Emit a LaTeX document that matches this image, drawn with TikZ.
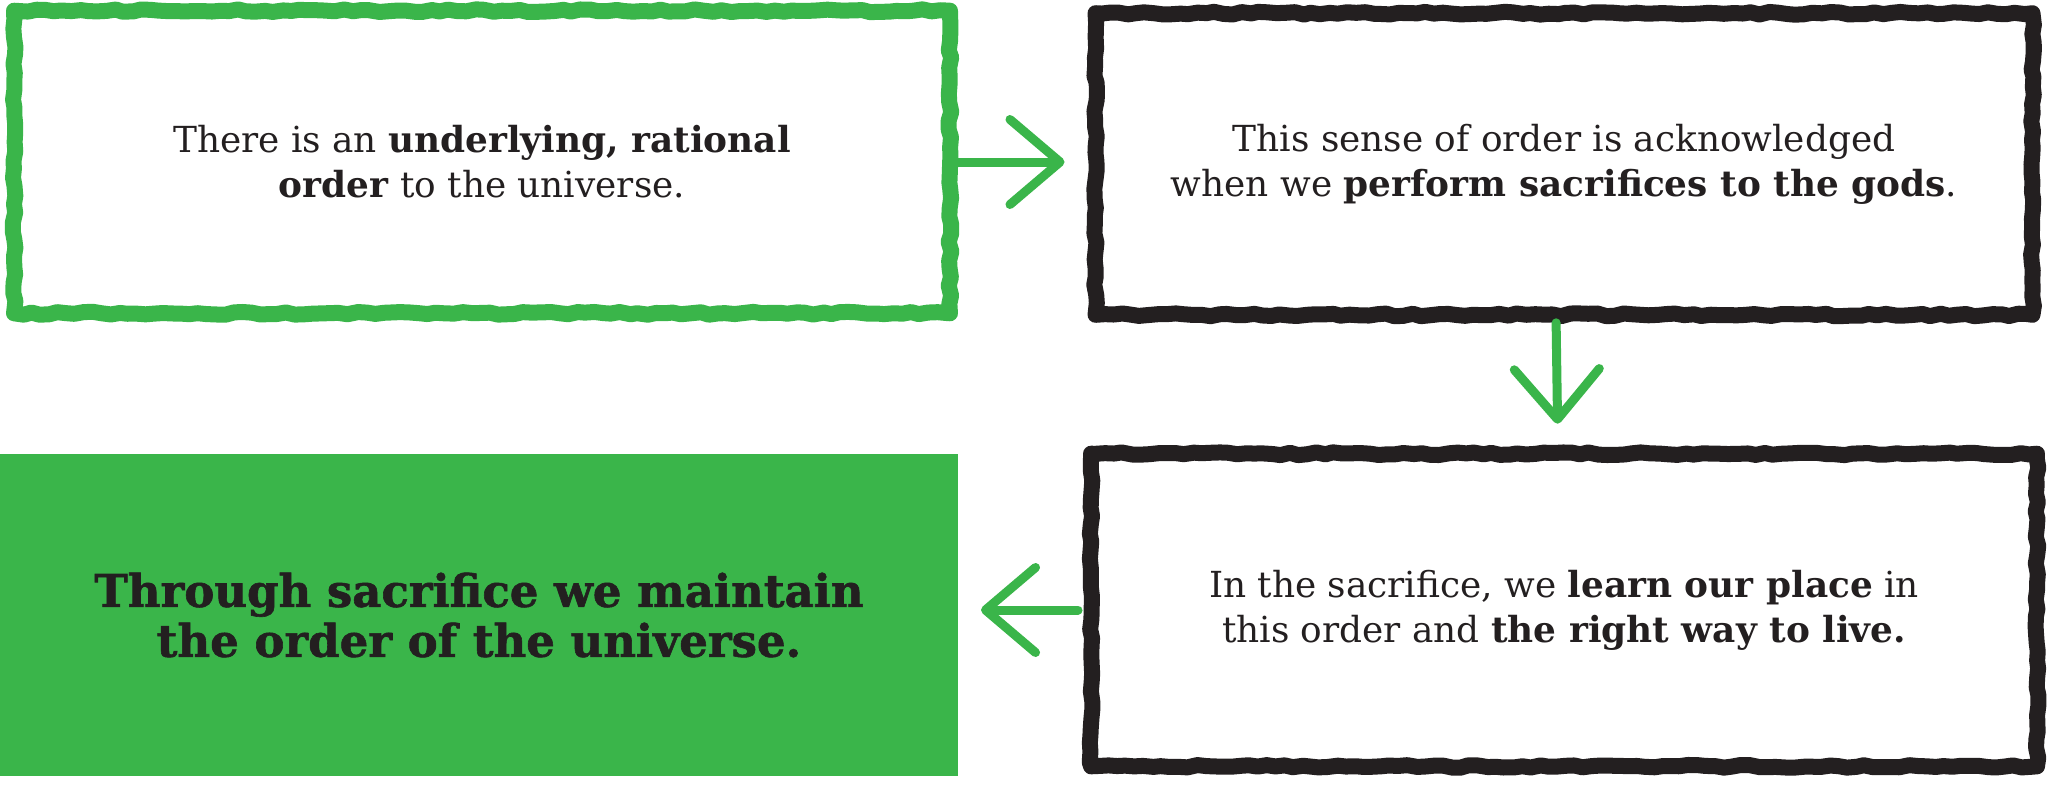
\documentclass[tikz,border=0pt]{standalone}
\usepackage{fontspec}
\setmainfont{DejaVu Serif}
\newfontfamily\heavyfont{DejaVu Serif}[FakeBold=1.3]
\usetikzlibrary{arrows.meta, decorations.pathmorphing, positioning}
\definecolor{leafgreen}{HTML}{3AB54A}
\definecolor{inkblack}{HTML}{231F20}
\tikzset{
    textbox/.style={rectangle, inner sep=0pt, align=center, text=inkblack,
        font=\fontsize{10.2}{12.8}\selectfont},
    roughframe/.style={draw=#1, line width=0.16cm, line join=round,
        decorate, decoration={random steps, segment length=2.5pt, amplitude=0.4pt}},
    roughframe/.default=inkblack,
    solidbox/.style={fill=leafgreen, rectangle, inner sep=0pt, align=center,
        text=inkblack, font=\heavyfont\bfseries\fontsize{12.8}{14.2}\selectfont},
    flowarrow/.style={draw=leafgreen, line width=0.09cm, line cap=round,
        -{Straight Barb[length=0.5cm, width=0.85cm, round]}}
}
\begin{document}
\begin{tikzpicture}[x=0.01cm, y=0.01cm]
    \pgfmathsetseed{7}
    \useasboundingbox (0,0) rectangle (2048,-784);
    % boxes
    \node[textbox, minimum width=9.34cm, minimum height=3.01cm] (order) at (482,-162)
        {There is an \textbf{underlying, rational}\\\textbf{order} to the universe.};
    \node[textbox, minimum width=9.35cm, minimum height=3.0cm] (gods) at (1564,-164)
        {This sense of order is acknowledged\\when we \textbf{perform sacrifices to the gods}.};
    \node[textbox, minimum width=9.44cm, minimum height=3.11cm] (place) at (1564,-610)
        {In the sacrifice, we \textbf{learn our place} in\\this order and \textbf{the right way to live.}};
    \node[solidbox, minimum width=9.58cm, minimum height=3.22cm] (keep) at (479,-615)
        {Through sacrifice we maintain\\the order of the universe.};
    \draw[roughframe=leafgreen] (order.north west) rectangle (order.south east);
    \draw[roughframe] (gods.north west) rectangle (gods.south east);
    \draw[roughframe] (place.north west) rectangle (place.south east);
    % arrows
    \draw[flowarrow, shorten <=0.08cm, shorten >=0.31cm] (order.east) -- (order.east -| gods.west);
    \draw[flowarrow, shorten <=0.08cm, shorten >=0.3cm] ([xshift=-0.08cm]gods.south) -- ([xshift=-0.06cm]place.north);
    \draw[flowarrow, shorten <=0.13cm, shorten >=0.22cm] (place.west) -- (place.west -| keep.east);
\end{tikzpicture}
\end{document}
